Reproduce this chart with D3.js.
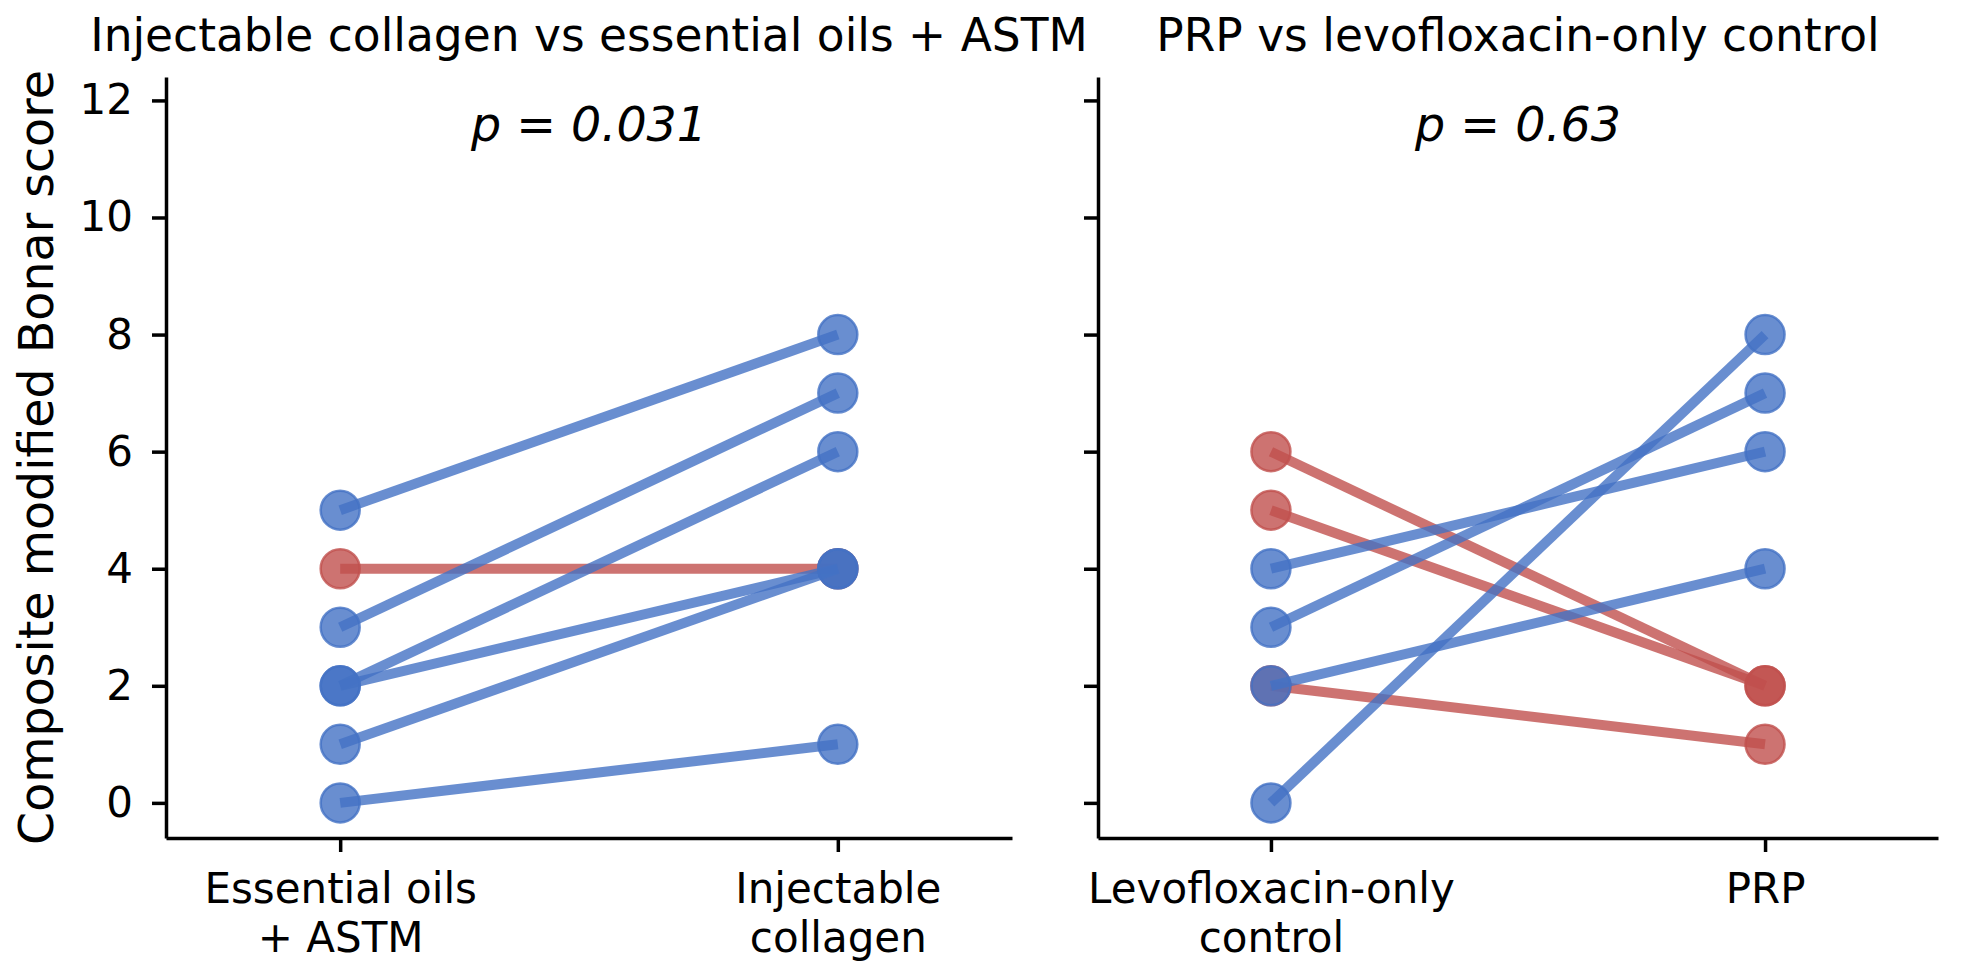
<!DOCTYPE html>
<html>
<head>
<meta charset="utf-8">
<script src="https://cdn.jsdelivr.net/npm/d3@7"></script>
<style>
  html, body { margin: 0; padding: 0; background: #fff; }
  svg { display: block; font-family: "DejaVu Sans", sans-serif; }
</style>
</head>
<body>
<svg id="chart" width="1961" height="978"></svg>
<script>
// Panel titles and p-values
const panelTitles = ["Injectable collagen vs essential oils + ASTM", "PRP vs levofloxacin-only control"];
const pValues = ["p = 0.031", "p = 0.63"];

// Tick labels for each panel (two lines each)
const leftCategories = [["Essential oils", "+ ASTM"], ["Injectable", "collagen"]];
const rightCategories = [["Levofloxacin-only", "control"], ["PRP"]];

// Paired scores, before (comparator) and after (treatment)
const leftBefore = [5, 3, 2, 2, 1, 0, 4];
const leftAfter = [8, 7, 6, 4, 4, 1, 4];
const rightBefore = [6, 5, 2, 4, 3, 2, 0];
const rightAfter = [2, 2, 1, 6, 7, 4, 8];

const yTicks = [0, 2, 4, 6, 8, 10, 12];
const yLabel = "Composite modified Bonar score";

const blue = "#4472C4";
const red = "#C0504D";

const svg = d3.select("#chart");

// Shared y scale
const y = d3.scaleLinear()
    .domain([-0.6, 12.4])
    .range([838, 77]);

const panels = [
    { title: panelTitles[0], p: pValues[0], cats: leftCategories, before: leftBefore, after: leftAfter, x0: 166, x1: 1012, labels: true },
    { title: panelTitles[1], p: pValues[1], cats: rightCategories, before: rightBefore, after: rightAfter, x0: 1098, x1: 1938, labels: false }
];

panels.forEach(panel => drawPanel(panel));

// Y axis label
svg.append("text")
    .attr("transform", `translate(53, ${(y.range()[0] + y.range()[1]) / 2}) rotate(-90)`)
    .attr("text-anchor", "middle")
    .style("font-size", "47.5px")
    .text(yLabel);

function drawPanel(panel) {
    const x = d3.scaleLinear()
        .domain([-0.35, 1.35])
        .range([panel.x0, panel.x1]);

    const g = svg.append("g");

    // Build pairs; red (no improvement) drawn first so blue sits on top
    const pairs = panel.before.map((b, i) => ({ b: b, a: panel.after[i], up: panel.after[i] > b }));
    pairs.sort((p, q) => d3.ascending(p.up, q.up));

    pairs.forEach(d => {
        const col = d.up ? blue : red;
        g.append("line")
            .attr("x1", x(0)).attr("y1", y(d.b))
            .attr("x2", x(1)).attr("y2", y(d.a))
            .attr("stroke", col)
            .attr("stroke-width", 10)
            .attr("stroke-opacity", 0.8);
        [[0, d.b], [1, d.a]].forEach(pt => {
            g.append("circle")
                .attr("cx", x(pt[0]))
                .attr("cy", y(pt[1]))
                .attr("r", 19.5)
                .attr("fill", col)
                .attr("fill-opacity", 0.8)
                .attr("stroke", col)
                .attr("stroke-opacity", 0.8)
                .attr("stroke-width", 2.5);
        });
    });

    // Y axis
    const yAxis = g.append("g")
        .attr("transform", `translate(${panel.x0},0)`)
        .call(d3.axisLeft(y).tickValues(yTicks).tickSize(14).tickSizeOuter(0).tickPadding(19));
    if (!panel.labels) yAxis.selectAll(".tick text").remove();

    // X axis
    const xAxis = g.append("g")
        .attr("transform", `translate(0,${y.range()[0]})`)
        .call(d3.axisBottom(x).tickValues([0, 1]).tickSize(14).tickSizeOuter(0).tickPadding(21));

    xAxis.selectAll(".tick text").each(function (d) {
        const t = d3.select(this).text(null).attr("dy", null);
        panel.cats[d].forEach((line, i) => {
            t.append("tspan")
                .attr("x", 0)
                .attr("dy", i === 0 ? "0.71em" : "1.18em")
                .text(line);
        });
    });

    [yAxis, xAxis].forEach(ax => {
        ax.selectAll(".domain").attr("stroke", "#000").attr("stroke-width", 3.5);
        ax.selectAll(".tick line").attr("stroke", "#000").attr("stroke-width", 3.5);
        ax.selectAll(".tick text")
            .attr("fill", "#000")
            .style("font-size", "42px")
            .style("font-family", "DejaVu Sans, sans-serif");
    });

    // Title
    svg.append("text")
        .attr("x", (panel.x0 + panel.x1) / 2)
        .attr("y", 51)
        .attr("text-anchor", "middle")
        .style("font-size", "45.5px")
        .text(panel.title);

    // p-value
    svg.append("text")
        .attr("x", (panel.x0 + panel.x1) / 2)
        .attr("y", 141)
        .attr("text-anchor", "middle")
        .style("font-size", "47.5px")
        .style("font-style", "italic")
        .text(panel.p);
}
</script>
</body>
</html>
